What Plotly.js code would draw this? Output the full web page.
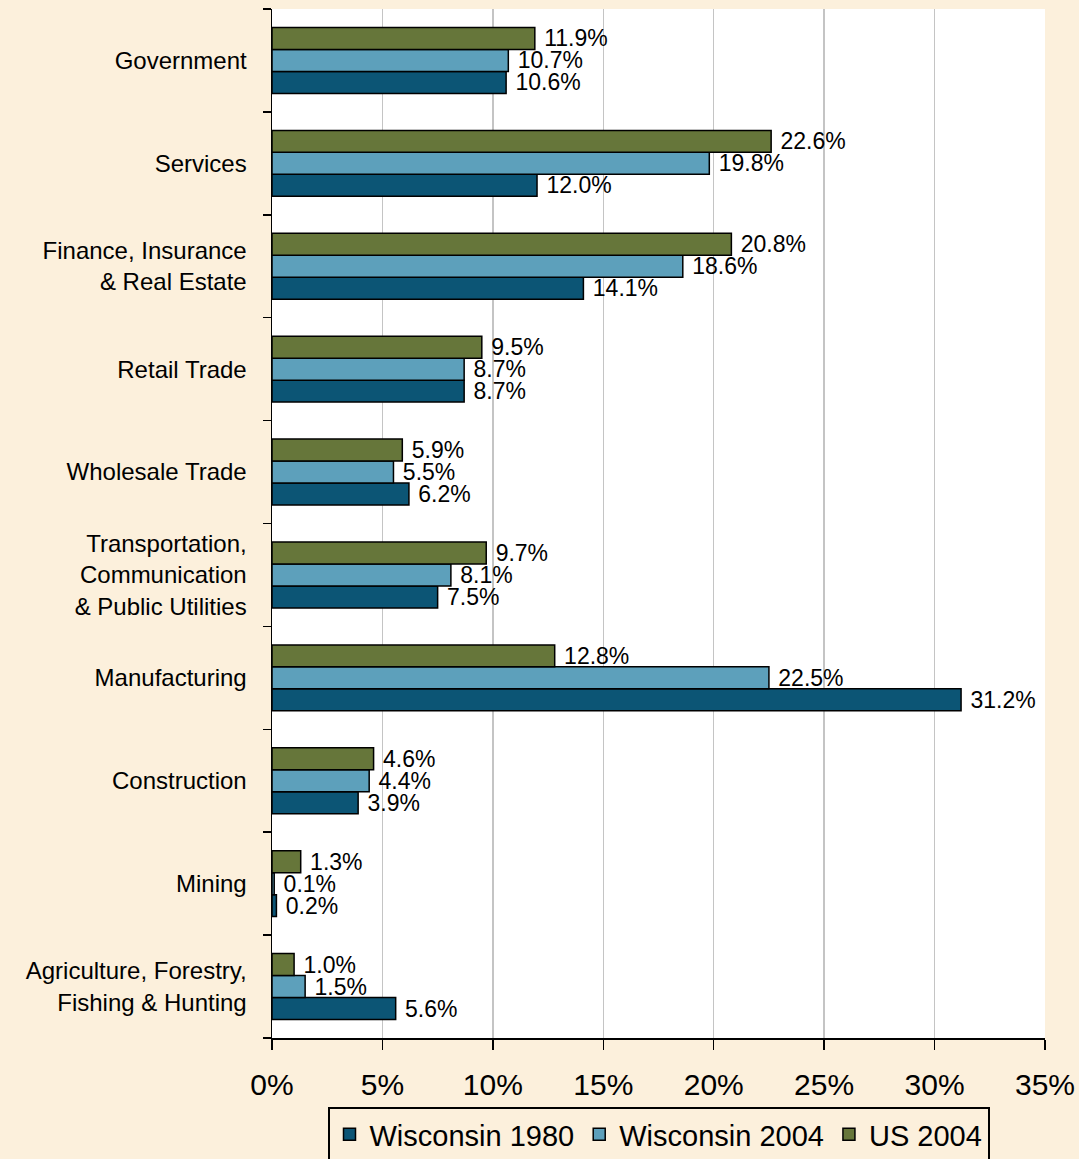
<!DOCTYPE html>
<html>
<head>
<meta charset="utf-8">
<script src="https://cdn.plot.ly/plotly-3.0.1.min.js"></script>
<style>
html,body{margin:0;padding:0;background:#FCF0DC;}
#chart{width:1079px;height:1159px;}
</style>
</head>
<body>
<div id="chart"></div>
<script>
// Categories listed bottom to top
const categories = [
  "Agriculture, Forestry,<br>Fishing & Hunting",
  "Mining",
  "Construction",
  "Manufacturing",
  "Transportation,<br>Communication<br>& Public Utilities",
  "Wholesale Trade",
  "Retail Trade",
  "Finance, Insurance<br>& Real Estate",
  "Services",
  "Government"
];
const wisconsin1980 = [5.6, 0.2, 3.9, 31.2, 7.5, 6.2, 8.7, 14.1, 12.0, 10.6];
const wisconsin2004 = [1.5, 0.1, 4.4, 22.5, 8.1, 5.5, 8.7, 18.6, 19.8, 10.7];
const us2004 = [1.0, 1.3, 4.6, 12.8, 9.7, 5.9, 9.5, 20.8, 22.6, 11.9];
const seriesNames = ["Wisconsin 1980", "Wisconsin 2004", "US 2004"];
const seriesColors = ["#0C5575", "#5DA0BB", "#66763A"];
const xTickVals = [0, 5, 10, 15, 20, 25, 30, 35];
const xTickText = ["0%", "5%", "10%", "15%", "20%", "25%", "30%", "35%"];

const font = "Liberation Sans, Arial, sans-serif";
const allSeries = [wisconsin1980, wisconsin2004, us2004];
const traces = allSeries.map((vals, i) => ({
  type: "bar",
  orientation: "h",
  name: seriesNames[i],
  y: categories,
  x: vals,
  marker: {color: seriesColors[i], line: {color: "#000000", width: 1.5}},
  text: vals.map(v => "\u00A0" + v.toFixed(1) + "%"),
  textposition: "outside",
  constraintext: "none",
  textfont: {family: font, size: 23, color: "#000000"},
  cliponaxis: false,
  hoverinfo: "x+name"
}));

const layout = {
  width: 1079,
  height: 1159,
  paper_bgcolor: "#FCF0DC",
  plot_bgcolor: "#FFFFFF",
  margin: {l: 272, r: 34, t: 9, b: 121, autoexpand: false},
  barmode: "group",
  bargap: 0.36,
  bargroupgap: 0,
  showlegend: true,
  font: {family: font, color: "#000000"},
  xaxis: {
    range: [0, 35],
    tickvals: xTickVals,
    ticktext: xTickText,
    ticks: "outside",
    ticklen: 10,
    tickwidth: 1.5,
    tickcolor: "#000000",
    ticklabelstandoff: 9,
    tickfont: {family: font, size: 30, color: "#000000"},
    showgrid: true,
    gridcolor: "#C4C4C4",
    gridwidth: 1.5,
    showline: true,
    linecolor: "#000000",
    linewidth: 1.5,
    zeroline: false,
    automargin: false,
    fixedrange: true
  },
  yaxis: {
    type: "category",
    categoryorder: "array",
    categoryarray: categories,
    tickson: "boundaries",
    ticks: "outside",
    ticklen: 8,
    tickwidth: 1.5,
    tickcolor: "#000000",
    ticklabelstandoff: 19,
    tickfont: {family: font, size: 24, color: "#000000"},
    showgrid: false,
    showline: true,
    linecolor: "#000000",
    linewidth: 1.5,
    automargin: false,
    fixedrange: true
  },
  legend: {
    orientation: "h",
    x: 0.5,
    xanchor: "center",
    y: -0.067,
    yanchor: "top",
    bgcolor: "#FCF0DC",
    bordercolor: "#000000",
    borderwidth: 2,
    font: {family: font, size: 29, color: "#000000"},
    itemwidth: 30,
    traceorder: "normal"
  }
};

Plotly.newPlot("chart", traces, layout, {displayModeBar: false, staticPlot: true});
</script>
</body>
</html>
